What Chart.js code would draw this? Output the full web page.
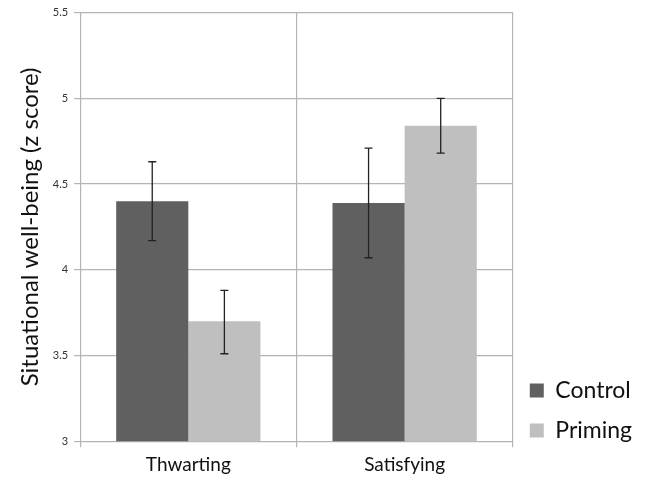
<!DOCTYPE html>
<html>
<head>
<meta charset="utf-8">
<script src="https://cdn.jsdelivr.net/npm/chart.js@4"></script>
<style>
  html, body { margin: 0; padding: 0; background: #fff; }
  #wrap { width: 650px; height: 482px; }
</style>
</head>
<body>
<div id="wrap"><canvas id="chart"></canvas></div>
<script>
// Données
const categories = ['Thwarting', 'Satisfying'];
const controlValues = [4.40, 4.39];
const primingValues = [3.70, 4.84];
const controlLow = [4.17, 4.07];
const controlHigh = [4.63, 4.71];
const primingLow = [3.51, 4.68];
const primingHigh = [3.88, 5.00];
const yTicks = [3, 3.5, 4, 4.5, 5, 5.5];

// Barres d'erreur dessinées via les échelles
const errorBars = {
    id: 'errorBars',
    afterDatasetsDraw(chart) {
        const ctx = chart.ctx;
        const y = chart.scales.y;
        const ranges = [[controlLow, controlHigh], [primingLow, primingHigh]];
        ctx.save();
        ctx.strokeStyle = '#222';
        ctx.lineWidth = 1.3;
        chart.data.datasets.forEach((ds, i) => {
            const meta = chart.getDatasetMeta(i);
            meta.data.forEach((bar, j) => {
                const x = bar.x;
                const top = y.getPixelForValue(ranges[i][1][j]);
                const bot = y.getPixelForValue(ranges[i][0][j]);
                ctx.beginPath();
                ctx.moveTo(x, top); ctx.lineTo(x, bot);
                ctx.moveTo(x - 4, top); ctx.lineTo(x + 4, top);
                ctx.moveTo(x - 4, bot); ctx.lineTo(x + 4, bot);
                ctx.stroke();
            });
        });
        ctx.restore();
    }
};

// Remonte un peu la légende (pas d'option de marge basse pour la légende)
const legendLift = {
    id: 'legendLift',
    afterLayout(chart) {
        if (chart.legend) chart.legend.bottom -= 23;
    }
};

new Chart(document.getElementById('chart'), {
    type: 'bar',
    data: {
        labels: categories,
        datasets: [
            { label: 'Control', data: controlValues, backgroundColor: '#606060' },
            { label: 'Priming', data: primingValues, backgroundColor: '#bfbfbf' }
        ]
    },
    options: {
        responsive: true,
        maintainAspectRatio: false,
        animation: false,
        layout: { padding: { top: 12, right: 8, bottom: 0, left: 12 } },
        datasets: { bar: { categoryPercentage: 0.667, barPercentage: 1.0 } },
        scales: {
            x: {
                offset: true,
                grid: { offset: true, color: '#b4b4b4', tickLength: 6, lineWidth: 1.2 },
                border: { color: '#b4b4b4' },
                ticks: { color: '#111', font: { family: 'Lato', size: 19 }, padding: 6 }
            },
            y: {
                min: 3,
                max: 5.5,
                afterBuildTicks: (axis) => { axis.ticks = yTicks.map(v => ({ value: v })); },
                grid: { color: '#b4b4b4', tickLength: 6, lineWidth: 1.2 },
                border: { color: '#b4b4b4' },
                ticks: {
                    color: '#333',
                    font: { family: 'Lato', size: 11 },
                    padding: 6,
                    callback: (v) => String(v)
                },
                title: {
                    display: true,
                    text: 'Situational well-being (z score)',
                    color: '#111',
                    font: { family: 'Lato', size: 24 },
                    padding: { top: 4, bottom: 2 }
                }
            }
        },
        plugins: {
            legend: {
                position: 'right',
                align: 'end',
                labels: {
                    color: '#111',
                    boxWidth: 14,
                    boxHeight: 14,
                    padding: 17,
                    font: { family: 'Lato', size: 23 }
                }
            },
            tooltip: { enabled: false }
        }
    },
    plugins: [errorBars, legendLift]
});
</script>
</body>
</html>
